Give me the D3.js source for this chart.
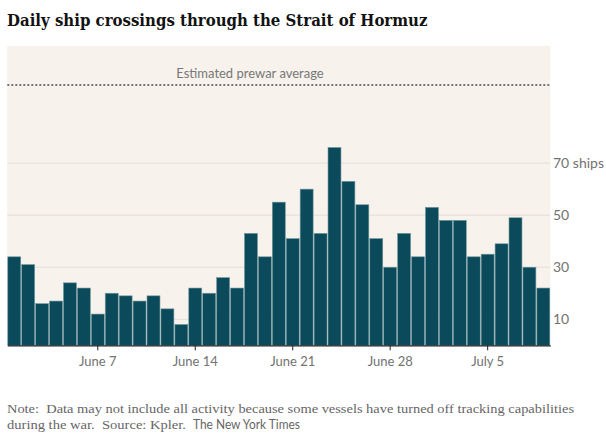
<!DOCTYPE html>
<html>
<head>
<meta charset="utf-8">
<script src="https://cdn.jsdelivr.net/npm/d3@7"></script>
<style>
  html, body { margin: 0; padding: 0; background: #fff; }
  svg { display: block; }
  .sans { font-family: Lato, "Open Sans", sans-serif; }
  .serif { font-family: "Liberation Serif", "DejaVu Serif", Georgia, serif; }
  .pre { white-space: pre; }
</style>
</head>
<body>
<svg id="chart" width="606" height="437"></svg>
<script>
// ---------- Data ----------
const startDay = new Date(2026, 5, 1);   // June 1
const endDay = new Date(2026, 6, 10);    // up to July 9
const days = d3.timeDay.range(startDay, endDay);

const crossings = [
  34, 31, 16, 17, 24, 22, 12, 20, 19, 17,
  19, 14, 8, 22, 20, 26, 22, 43, 34, 55,
  41, 60, 43, 76, 63, 54, 41, 30, 43, 34,
  53, 48, 48, 34, 35, 39, 49, 30, 22
];

const prewarAverage = 100;
const gridValues = [10, 30, 50, 70];
const gridLabels = ['10', '30', '50', '70 ships'];
const tickDays = [new Date(2026, 5, 7), new Date(2026, 5, 14), new Date(2026, 5, 21), new Date(2026, 5, 28), new Date(2026, 6, 5)];

const titleText = 'Daily ship crossings through the Strait of Hormuz';
const prewarLabel = 'Estimated prewar average';
const noteLine1 = 'Note:  Data may not include all activity because some vessels have turned off tracking capabilities';
const noteLine2 = 'during the war.  Source: Kpler.';
const creditText = 'The New York Times';

// ---------- Layout ----------
const m = { l: 7.3, r: 550.3, t: 46, b: 345.3 };
const fmt = d3.timeFormat('%B %-d');
const key = d3.timeFormat('%Y-%m-%d');
const parse = d3.timeParse('%Y-%m-%d');

const svg = d3.select('#chart');

const x = d3.scaleBand()
  .domain(days.map(key))
  .range([m.l, m.r])
  .paddingInner(0.07)
  .paddingOuter(0.035);

const y = d3.scaleLinear().domain([0, 115]).range([m.b, m.t]);

// Title, scaled to fit its measured width
const title = svg.append('text')
  .attr('x', 7).attr('y', 26)
  .attr('font-family', '"DejaVu Serif Condensed", "DejaVu Serif", serif')
  .attr('font-weight', 700)
  .attr('font-size', 20)
  .attr('fill', '#121212')
  .text(titleText);
const tw = title.node().getComputedTextLength();
title.attr('font-size', 20 * 421 / tw);

// Plot background
svg.append('rect')
  .attr('x', m.l).attr('y', m.t)
  .attr('width', m.r - m.l).attr('height', m.b - m.t)
  .attr('fill', '#f7f2ec');

// Gridlines
svg.append('g').selectAll('line').data(gridValues).join('line')
  .attr('x1', m.l).attr('x2', m.r)
  .attr('y1', d => y(d)).attr('y2', d => y(d))
  .attr('stroke', '#e3ded7').attr('stroke-width', 1);

// Prewar average line
svg.append('line')
  .attr('x1', m.l).attr('x2', m.r)
  .attr('y1', y(prewarAverage)).attr('y2', y(prewarAverage))
  .attr('stroke', '#777').attr('stroke-width', 2)
  .attr('stroke-dasharray', '2 2');

svg.append('text')
  .attr('class', 'sans')
  .attr('x', 250).attr('y', y(prewarAverage) - 7)
  .attr('text-anchor', 'middle')
  .attr('font-size', 13)
  .attr('fill', '#777')
  .text(prewarLabel);

// Bars
svg.append('g').selectAll('rect').data(days).join('rect')
  .attr('x', d => x(key(d)))
  .attr('y', (d, i) => y(crossings[i]))
  .attr('width', x.bandwidth())
  .attr('height', (d, i) => y(0) - y(crossings[i]))
  .attr('fill', '#0b4a5a')
  .attr('stroke', '#6f979c')
  .attr('stroke-width', 0.6);

// Y labels on the right
svg.append('g').selectAll('text').data(gridValues).join('text')
  .attr('class', 'sans')
  .attr('x', 553).attr('y', d => y(d))
  .attr('dy', '0.35em')
  .attr('font-size', 14)
  .attr('fill', '#727272')
  .text((d, i) => gridLabels[i]);

// X axis
const xAxis = svg.append('g')
  .attr('transform', `translate(0,${m.b})`)
  .call(d3.axisBottom(x)
    .tickValues(tickDays.map(key))
    .tickSize(5)
    .tickSizeOuter(0)
    .tickPadding(6)
    .tickFormat(k => fmt(parse(k))));

xAxis.select('.domain').attr('stroke', '#222').attr('stroke-width', 1.2);
xAxis.selectAll('.tick line').attr('stroke', '#222');
xAxis.selectAll('.tick text')
  .attr('class', 'sans')
  .attr('font-size', 13)
  .attr('fill', '#727272');

// Note
const noteText = (cls, tx, ty, len, size, str) => svg.append('text')
  .attr('class', cls)
  .attr('x', tx).attr('y', ty)
  .attr('font-size', size)
  .attr('fill', '#666')
  .attr('textLength', len)
  .attr('lengthAdjust', 'spacingAndGlyphs')
  .text(str);

noteText('serif pre', 7, 413, 567, 13.5, noteLine1);
noteText('serif pre', 7, 429, 179, 13.5, noteLine2);
noteText('sans', 193, 429, 107, 12.5, creditText);
</script>
</body>
</html>
